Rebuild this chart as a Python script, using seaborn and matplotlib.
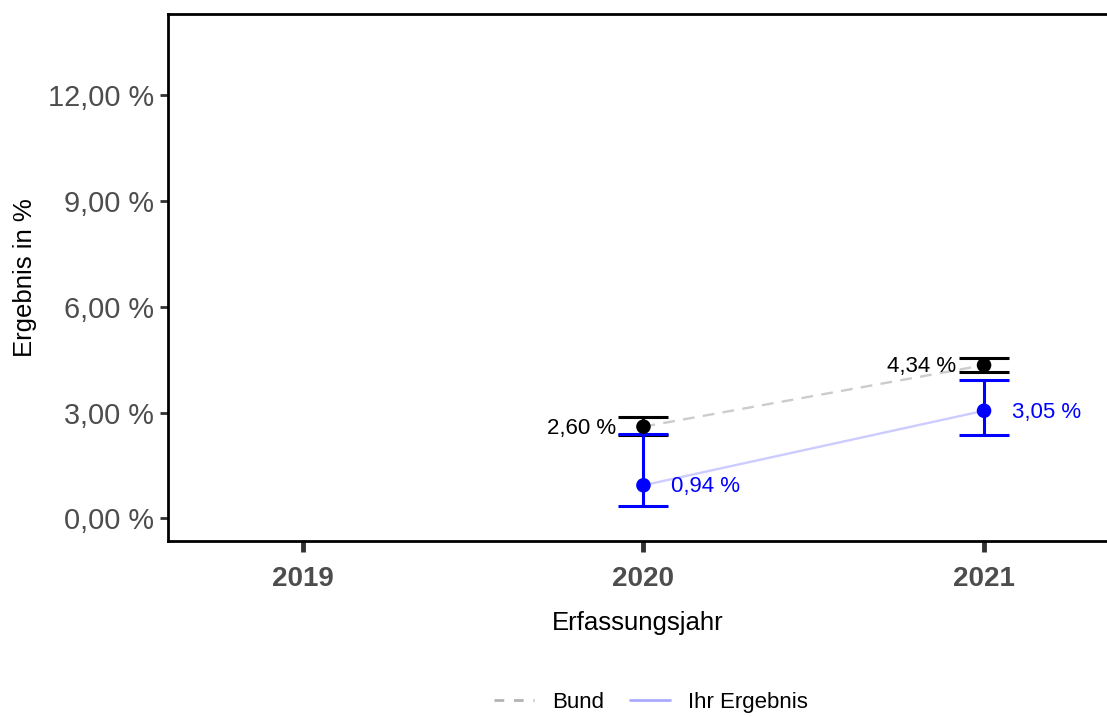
import numpy as np
import pandas as pd
import matplotlib
matplotlib.use("Agg")
import matplotlib.pyplot as plt
from matplotlib.lines import Line2D
import seaborn as sns

# --- Daten ---
years = [2020, 2021]
tick_years = [2019, 2020, 2021]
bund = [2.60, 4.34]
bund_lo = [2.37, 4.14]
bund_hi = [2.86, 4.53]
ihr = [0.94, 3.05]
ihr_lo = [0.35, 2.36]
ihr_hi = [2.40, 3.92]
y_ticks = [0, 3, 6, 9, 12]


def fmt_pct(v):
    return f"{v:.2f}".replace(".", ",") + " %"


sns.set_style("white")
plt.rcParams["font.family"] = ["Liberation Sans", "DejaVu Sans"]
plt.rcParams["text.color"] = "black"
plt.rcParams["axes.labelcolor"] = "black"

fig = plt.figure(figsize=(11.07, 7.17), dpi=100)
ax = fig.add_axes([168 / 1107, 1 - 541 / 717, 1 - 168 / 1107, (541 - 14) / 717])

df = pd.DataFrame({"jahr": years * 2,
                   "wert": bund + ihr,
                   "gruppe": ["Bund"] * 2 + ["Ihr Ergebnis"] * 2})

# Verbindungslinien
sns.lineplot(data=df[df.gruppe == "Bund"], x="jahr", y="wert", ax=ax,
             color="#cccccc", linewidth=1.7, dashes=False, linestyle=(0, (5, 3.5)),
             legend=False, zorder=1)
sns.lineplot(data=df[df.gruppe == "Ihr Ergebnis"], x="jahr", y="wert", ax=ax,
             color="#ccccff", linewidth=1.7, legend=False, zorder=1)

# Konfidenzintervalle
b = np.array(bund)
i = np.array(ihr)
ax.errorbar(years, bund, yerr=[b - np.array(bund_lo), np.array(bund_hi) - b],
            fmt="none", ecolor="black", elinewidth=2.2, capsize=18, capthick=2.2, zorder=2)
ax.errorbar(years, ihr, yerr=[i - np.array(ihr_lo), np.array(ihr_hi) - i],
            fmt="none", ecolor="#0000ff", elinewidth=2.2, capsize=18, capthick=2.2, zorder=3)

# Punkte
sns.scatterplot(data=df[df.gruppe == "Bund"], x="jahr", y="wert", ax=ax,
                color="black", s=110, edgecolor="none", zorder=4, legend=False)
sns.scatterplot(data=df[df.gruppe == "Ihr Ergebnis"], x="jahr", y="wert", ax=ax,
                color="#0000ff", s=110, edgecolor="none", zorder=4, legend=False)

# Werte-Beschriftungen
for x, v in zip(years, bund):
    ax.annotate(fmt_pct(v), (x, v), xytext=(-20, -1), textcoords="offset points",
                ha="right", va="center", fontsize=16, color="black", zorder=5)
for x, v in zip(years, ihr):
    ax.annotate(fmt_pct(v), (x, v), xytext=(20, -1), textcoords="offset points",
                ha="left", va="center", fontsize=16, color="#0000ff", zorder=5)

ax.set_xlim(2018.604, 2021.361)
ax.set_ylim(-0.637, 14.28)
ax.set_xticks(tick_years)
ax.set_xticklabels([str(t) for t in tick_years], fontsize=20, fontweight="bold", color="#4d4d4d")
ax.set_yticks(y_ticks)
ax.set_yticklabels([fmt_pct(t) for t in y_ticks], fontsize=20.8, color="#4d4d4d")
ax.tick_params(axis="x", length=8, width=3.5, color="#333333", pad=10, bottom=True)
ax.tick_params(axis="y", length=6, width=2, color="#333333", pad=4, left=True)

ax.set_xlabel("Erfassungsjahr", fontsize=18.5, labelpad=14, color="black")
ax.set_ylabel("Ergebnis in %", fontsize=18.5, labelpad=8, color="black")

for side in ["top", "left", "bottom"]:
    ax.spines[side].set_color("black")
    ax.spines[side].set_linewidth(2)
ax.spines["right"].set_visible(False)

handles = [Line2D([], [], color="#b3b3b3", linewidth=2, linestyle=(0, (3.5, 3.5))),
           Line2D([], [], color="#aaaaff", linewidth=2)]
fig.legend(handles, ["Bund", "Ihr Ergebnis"], loc="center", bbox_to_anchor=(0.588, 0.02),
           ncol=2, frameon=False, fontsize=16, handlelength=1.8, columnspacing=1.2,
           handletextpad=0.8, labelcolor="black")

fig.savefig("out.png", dpi=100)
